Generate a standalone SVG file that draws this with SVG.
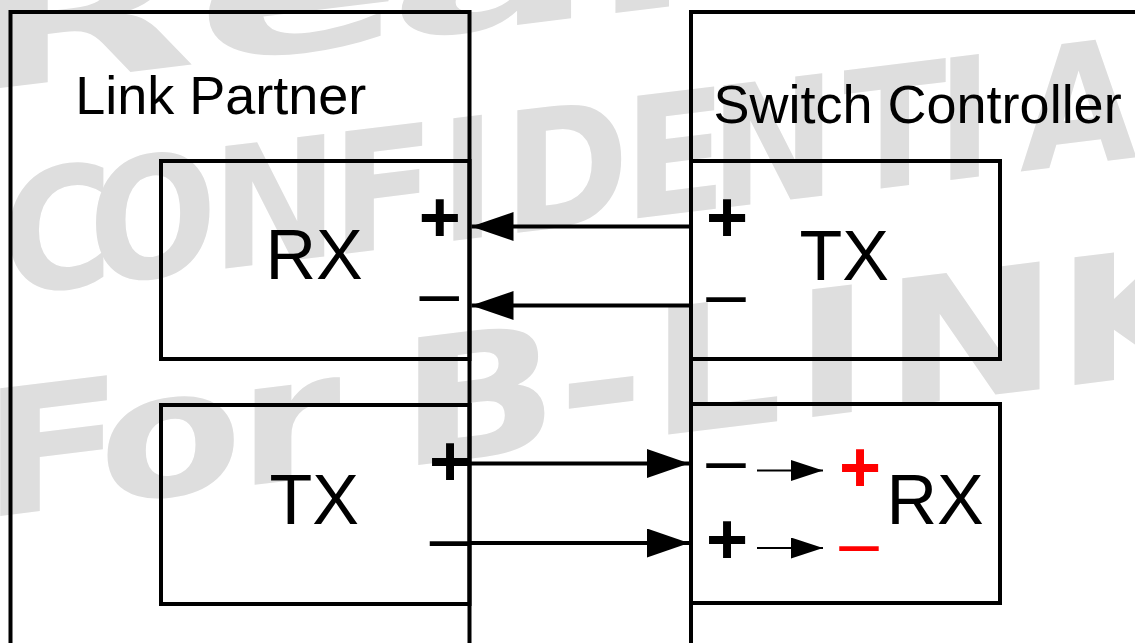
<svg xmlns="http://www.w3.org/2000/svg" width="1135" height="643" viewBox="0 0 1135 643">
  <style>
    .wm { font-family: "DejaVu Sans", "Verdana", sans-serif; font-weight: bold; fill: #dedede; }
    .box { fill: none; stroke: #000; stroke-width: 4; }
    .wire { fill: none; stroke: #000; stroke-width: 4; }
    .thin { fill: none; stroke: #000; stroke-width: 1.8; }
    .lbl { font-family: "Liberation Sans", Arial, sans-serif; fill: #000; }
    .title { font-size: 54px; }
    .big { font-size: 70px; }
    .plus { font-size: 72px; font-weight: bold; text-anchor: middle; }
    .minus { font-size: 71px; text-anchor: middle; }
    .red { fill: #ff0000; }
  </style>
  <defs>
    <marker id="ah" markerUnits="userSpaceOnUse" markerWidth="42" markerHeight="29" refX="42" refY="14.5" orient="auto">
      <path d="M0,0 L42,14.5 L0,29 Z" fill="#000"/>
    </marker>
    <marker id="ahs" markerUnits="userSpaceOnUse" markerWidth="32" markerHeight="21" refX="32" refY="10.5" orient="auto">
      <path d="M0,0 L32,10.5 L0,21 Z" fill="#000"/>
    </marker>
  </defs>
  <rect x="0" y="0" width="1135" height="643" fill="#fff"/>

  <g id="watermark">
    <text class="wm" font-size="175" y="88" x="-21.7 111.8 222 337" transform="matrix(1.75,-0.2135,0,1,0,0)">Realtek</text>
    <text class="wm" font-size="168" y="296" x="2.2 98.3 235 368.3 488.3 559.4 692.8 788.3 936.9 1040.6 1133.3 1251.7" transform="matrix(0.9,-0.1098,0,1,0,0)">CONFIDENTIAL</text>
    <text class="wm" font-size="175" y="516" x="-15.75 82 197.6 300 332.6 464.6 540.9 660.9 735.9 879.3" transform="matrix(1.2,-0.1464,0,1,0,0)">For B-LINK</text>
  </g>

  <g id="link-partner">
    <path class="box" d="M10.5,660 V12 H469.5 V660"/>
    <text class="lbl title" x="75.2" y="113.5">Link Partner</text>
  </g>
  <g id="switch-controller">
    <path class="box" d="M691,660 V12 H1140"/>
    <text class="lbl title" x="713.5" y="122.7">Switch Controller</text>
  </g>

  <g id="lp-rx">
    <rect class="box" x="161" y="161" width="308.5" height="198"/>
    <text class="lbl big" x="265.5" y="279">RX</text>
    <text class="lbl plus" x="439.7" y="242.3">+</text>
    <text class="lbl minus" x="439.3" y="317">–</text>
  </g>
  <g id="lp-tx">
    <rect class="box" x="161" y="405" width="308.5" height="199"/>
    <text class="lbl big" x="269.5" y="524">TX</text>
    <text class="lbl plus" x="450" y="486.3">+</text>
    <text class="lbl minus" x="449.5" y="561.7">–</text>
  </g>
  <g id="sc-tx">
    <rect class="box" x="691" y="161" width="309" height="198"/>
    <text class="lbl big" x="799.5" y="280">TX</text>
    <text class="lbl plus" x="727" y="242.3">+</text>
    <text class="lbl minus" x="726" y="317.7">–</text>
  </g>
  <g id="sc-rx">
    <rect class="box" x="691" y="404" width="309" height="199"/>
    <text class="lbl big" x="886.5" y="524">RX</text>
    <text class="lbl minus" x="726" y="483.7">–</text>
    <text class="lbl plus" x="727" y="563.8">+</text>
    <text class="lbl plus red" x="860" y="491.8">+</text>
    <text class="lbl minus red" x="859" y="566.7">–</text>
  </g>

  <g id="connectors">
    <line class="wire" x1="691" y1="226.5" x2="471.5" y2="226.5" marker-end="url(#ah)"/>
    <line class="wire" x1="691" y1="305.5" x2="471.5" y2="305.5" marker-end="url(#ah)"/>
    <line class="wire" x1="469.5" y1="463.5" x2="689" y2="463.5" marker-end="url(#ah)"/>
    <line class="wire" x1="469.5" y1="543" x2="689" y2="543" marker-end="url(#ah)"/>
    <line class="thin" x1="757" y1="470.5" x2="823" y2="470.5" marker-end="url(#ahs)"/>
    <line class="thin" x1="757" y1="548" x2="823" y2="548" marker-end="url(#ahs)"/>
  </g>
</svg>
